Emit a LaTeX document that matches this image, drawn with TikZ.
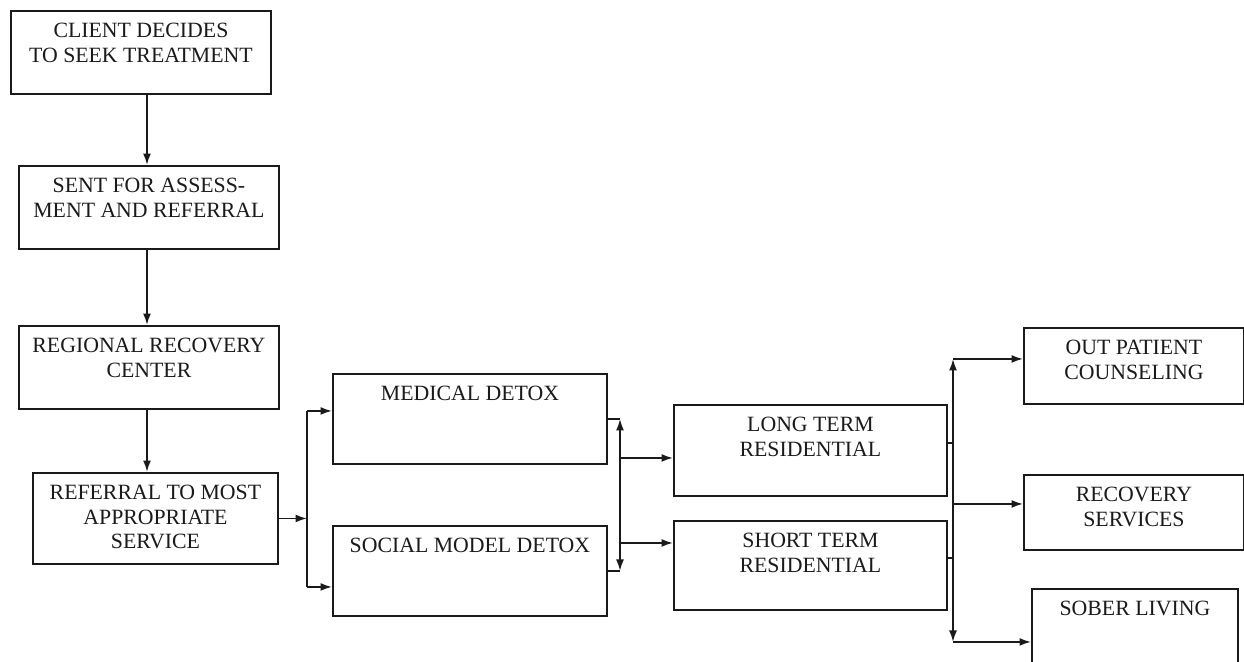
\documentclass[tikz,border=0pt]{standalone}
\usepackage{fontspec}
\setmainfont{Liberation Serif}
\usetikzlibrary{arrows.meta,positioning,calc}
\definecolor{ink}{HTML}{1A1A1A}
\tikzset{
  stagebox/.style={draw=ink, line width=1.1pt, rectangle, inner sep=0pt, anchor=north west},
  stagetext/.style={anchor=north, yshift=-0.26cm, inner sep=0pt, align=center, text=ink,
                    font=\fontsize{12.4}{14}\selectfont},
  arr/.style={-{Latex[length=2.3mm,width=1.6mm]}, line width=1pt, color=ink},
  darr/.style={{Latex[length=2.3mm,width=1.6mm]}-{Latex[length=2.3mm,width=1.6mm]}, line width=1pt, color=ink},
  lnk/.style={line width=1pt, color=ink}}

\begin{document}
\begin{tikzpicture}[x=0.02cm, y=-0.02cm]
  \useasboundingbox (0,0) rectangle (1244,662);
  \fill[white] (0,0) rectangle (1244,662);
  \clip (0,0) rectangle (1244,662);
  % left column
  \node[stagebox, minimum width=5.2cm, minimum height=1.66cm,
        label={[stagetext]north:CLIENT DECIDES\\TO SEEK TREATMENT}] (client) at (10,10) {};
  \node[stagebox, minimum width=5.2cm, minimum height=1.66cm,
        label={[stagetext]north:SENT FOR ASSESS-\\MENT AND REFERRAL}] (sent) at (18,165) {};
  \node[stagebox, minimum width=5.2cm, minimum height=1.66cm,
        label={[stagetext]north:REGIONAL RECOVERY\\CENTER}] (regional) at (18,325) {};
  \node[stagebox, minimum width=4.9cm, minimum height=1.82cm,
        label={[stagetext]north:REFERRAL TO MOST\\APPROPRIATE\\SERVICE}] (referral) at (32,472) {};
  % detox
  \node[stagebox, minimum width=5.48cm, minimum height=1.8cm,
        label={[stagetext]north:MEDICAL DETOX}] (medical) at (332,373) {};
  \node[stagebox, minimum width=5.48cm, minimum height=1.8cm,
        label={[stagetext]north:SOCIAL MODEL DETOX}] (social) at (332,525) {};
  % residential
  \node[stagebox, minimum width=5.46cm, minimum height=1.82cm,
        label={[stagetext]north:LONG TERM\\RESIDENTIAL}] (longres) at (673,404) {};
  \node[stagebox, minimum width=5.46cm, minimum height=1.78cm,
        label={[stagetext]north:SHORT TERM\\RESIDENTIAL}] (shortres) at (673,520) {};
  % aftercare
  \node[stagebox, minimum width=4.4cm, minimum height=1.52cm,
        label={[stagetext]north:OUT PATIENT\\COUNSELING}] (outpat) at (1023,327) {};
  \node[stagebox, minimum width=4.4cm, minimum height=1.5cm,
        label={[stagetext]north:RECOVERY\\SERVICES}] (recov) at (1023,474) {};
  \node[stagebox, minimum width=4.12cm, minimum height=1.8cm,
        label={[stagetext]north:SOBER LIVING}] (sober) at (1031,588) {};

  % junction points
  \coordinate (spine) at (147,0);
  \coordinate (split) at (307,0);
  \coordinate (merge) at (620,0);
  \coordinate (fan) at (953,0);
  \coordinate (medin) at ([yshift=0.16cm]medical.west);
  \coordinate (socin) at ([yshift=-0.32cm]social.west);
  \coordinate (longin) at ([yshift=-0.15cm]longres.west);
  \coordinate (shortin) at ([yshift=0.45cm]shortres.west);
  \coordinate (longout) at ([yshift=0.15cm]longres.east);
  \coordinate (shortout) at ([yshift=0.15cm]shortres.east);
  \coordinate (outin) at ([yshift=0.14cm]outpat.west);
  \coordinate (recin) at ([yshift=0.17cm]recov.west);
  \coordinate (sobin) at ([yshift=-0.16cm]sober.west);

  % down the left column
  \draw[arr] (client.south -| spine) -- (sent.north -| spine);
  \draw[arr] (sent.south -| spine) -- (regional.north -| spine);
  \draw[arr] (regional.south -| spine) -- (referral.north -| spine);

  % referral to detox
  \draw[arr] (referral.east) -- (referral.east -| split);
  \draw[lnk] (split |- medin) -- (split |- socin);
  \draw[arr] (split |- medin) -- (medin);
  \draw[arr] (split |- socin) -- (socin);

  % detox to residential
  \draw[lnk] (medical.east) -- (medical.east -| merge);
  \draw[lnk] (social.east) -- (social.east -| merge);
  \draw[darr] (medical.east -| merge) -- (social.east -| merge);
  \draw[arr] (merge |- longin) -- (longin);
  \draw[arr] (merge |- shortin) -- (shortin);

  % residential to aftercare
  \draw[lnk] (longout) -- (longout -| fan);
  \draw[lnk] (shortout) -- (shortout -| fan);
  \draw[darr] (fan |- outin) -- (fan |- sobin);
  \draw[arr] (fan |- outin) -- (outin);
  \draw[arr] (fan |- recin) -- (recin);
  \draw[arr] (fan |- sobin) -- (sobin);
\end{tikzpicture}
\end{document}
